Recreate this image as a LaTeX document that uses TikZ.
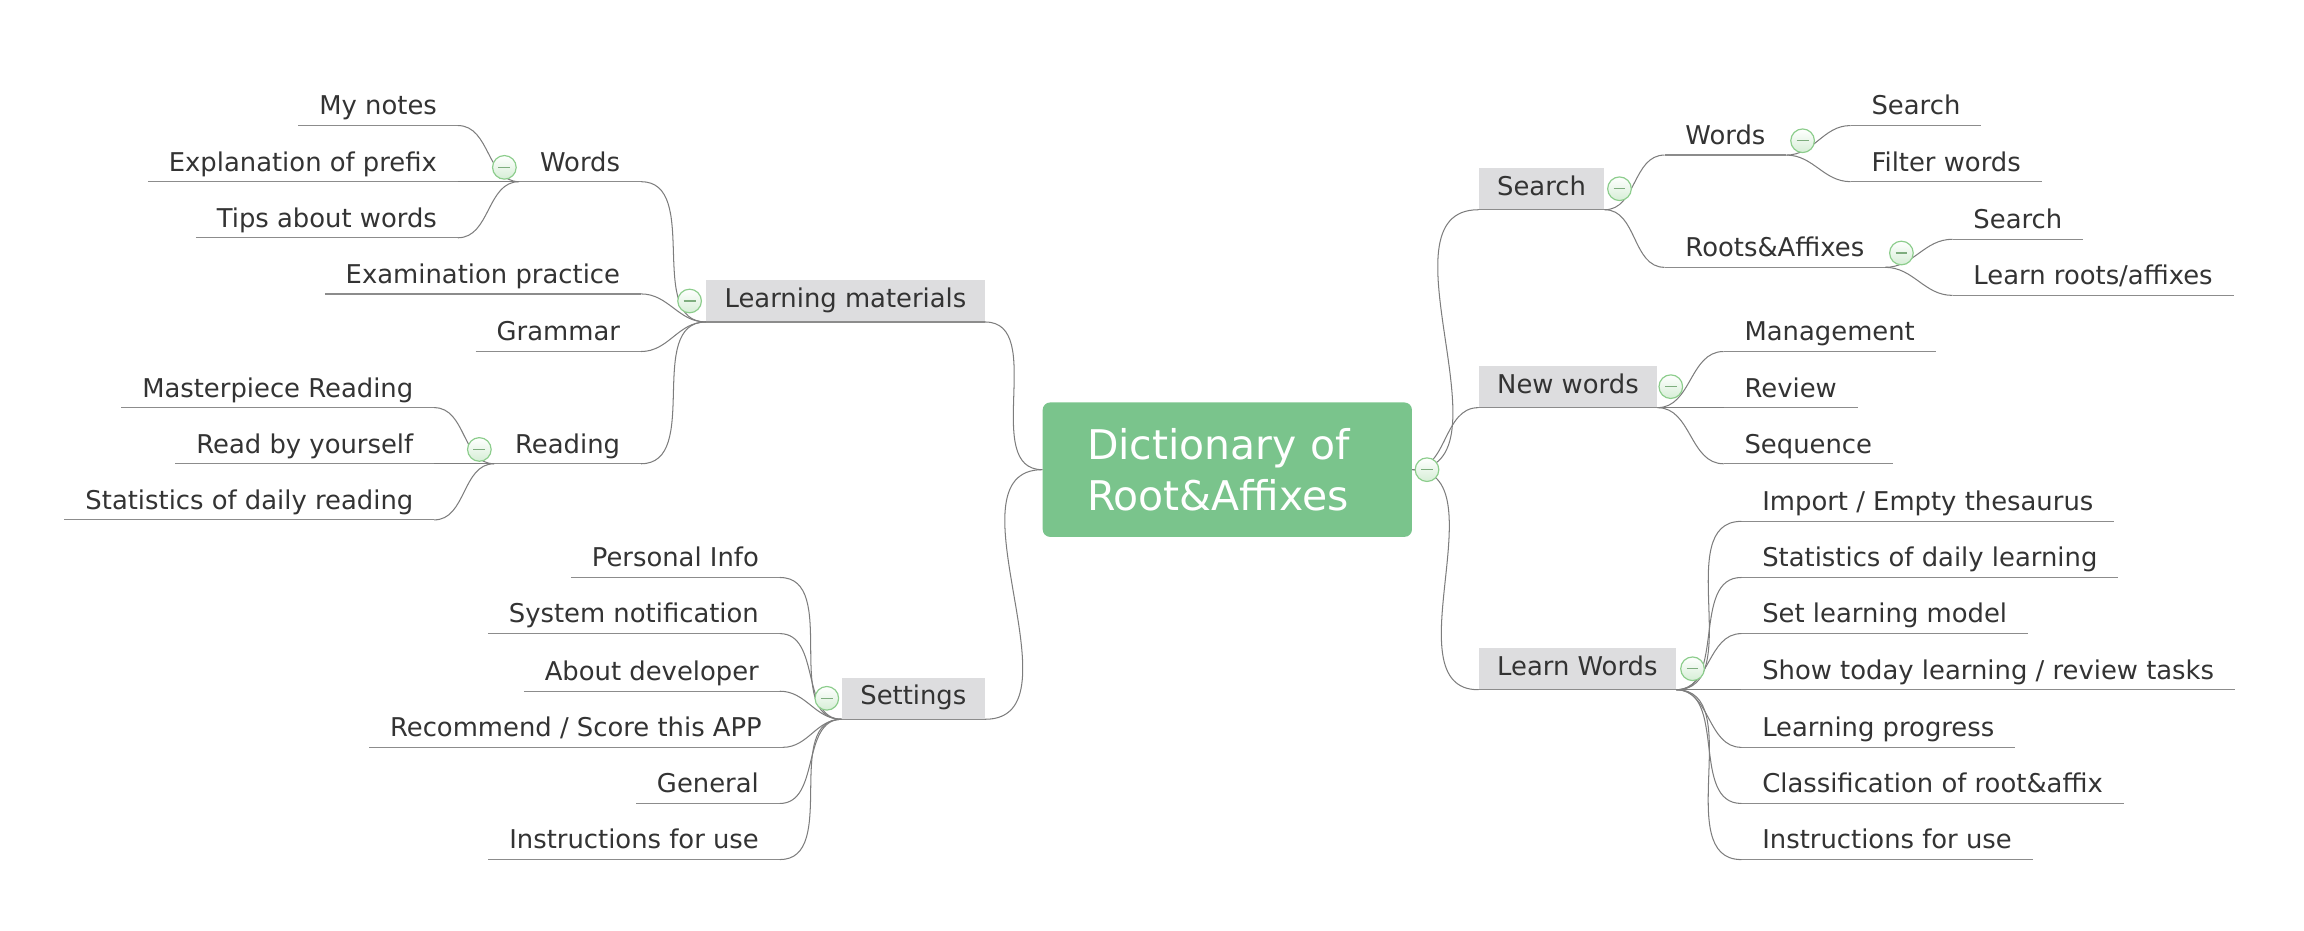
\documentclass[tikz,border=0pt]{standalone}
\usepackage{fontspec}
\setmainfont{DejaVu Sans}
\usepackage{tikz}

\definecolor{rootgreen}{RGB}{122,196,140}
\definecolor{boxgray}{RGB}{221,221,223}
\definecolor{linegray}{RGB}{125,125,125}
\definecolor{ulinegray}{RGB}{140,140,140}
\definecolor{textgray}{RGB}{51,51,51}
\definecolor{foldgreen}{RGB}{140,205,140}
\definecolor{foldfill}{RGB}{214,238,214}

\begin{document}
\begin{tikzpicture}[x=1pt,y=-1pt,
  font=\fontsize{17.5}{21}\selectfont, text=textgray,
  uline/.style={append after command={(\tikzlastnode.south west) edge[draw=ulinegray, line width=0.8pt] (\tikzlastnode.south east)}},
  leaf/.style={inner xsep=14, inner ysep=4.5, text height=0.75em, text depth=0.25em, uline},
  topic/.style={fill=boxgray, inner xsep=12.5, inner ysep=0, minimum height=28, text height=0.95em, text depth=0.05em, uline},
  root/.style={fill=rootgreen, rounded corners=5, text width=190, inner xsep=30, minimum height=91, text=white, align=left, font=\fontsize{27.7}{35}\selectfont},
  lcurve/.style={draw=linegray, line width=0.7pt, out=180, in=0},
  rcurve/.style={draw=linegray, line width=0.7pt, out=0, in=180},
  fold/.style={circle, draw=foldgreen, line width=0.8pt, minimum size=16, inner sep=0, top color=white, bottom color=foldfill,
    path picture={\draw[foldgreen!80!black!90, line width=0.8pt] ([xshift=-4]path picture bounding box.center) -- ([xshift=4]path picture bounding box.center);}}
]
\useasboundingbox (0,0) rectangle (1560,630);

% central topic
 \draw (831,318) node[root] (root) {Dictionary of\\Root\&Affixes};

% left side
 \draw (667,218) node[topic, anchor=south east] (lm) {Learning materials};
 \draw (667,487) node[topic, anchor=south east] (settings) {Settings};

  \draw (434,123) node[leaf, anchor=south east] (lwords) {Words};
  \draw (434,199) node[leaf, anchor=south east] (exam) {Examination practice};
  \draw (434,238) node[leaf, anchor=south east] (grammar) {Grammar};
  \draw (434,314) node[leaf, anchor=south east] (reading) {Reading};

	\draw (310,85) node[leaf, anchor=south east] (notes) {My notes};
	\draw (310,123) node[leaf, anchor=south east] (prefix) {Explanation of prefix};
	\draw (310,161) node[leaf, anchor=south east] (tips) {Tips about words};

	\draw (294,276) node[leaf, anchor=south east] (master) {Masterpiece Reading};
	\draw (294,314) node[leaf, anchor=south east] (yourself) {Read by yourself};
	\draw (294,352) node[leaf, anchor=south east] (dailyread) {Statistics of daily reading};

  \draw (528,391) node[leaf, anchor=south east] (personal) {Personal Info};
  \draw (528,429) node[leaf, anchor=south east] (notify) {System notification};
  \draw (528,468) node[leaf, anchor=south east] (developer) {About developer};
  \draw (530,506) node[leaf, anchor=south east] (recommend) {Recommend / Score this APP};
  \draw (528,544) node[leaf, anchor=south east] (general) {General};
  \draw (528,582) node[leaf, anchor=south east] (lhelp) {Instructions for use};

% right side
 \draw (1001,142) node[topic, anchor=south west] (search) {Search};
 \draw (1001,276) node[topic, anchor=south west] (newwords) {New words};
 \draw (1001,467) node[topic, anchor=south west] (learnwords) {Learn Words};

  \draw (1127,105) node[leaf, anchor=south west] (rwords) {Words};
  \draw (1127,181) node[leaf, anchor=south west] (roots) {Roots\&Affixes};

	\draw (1253,85) node[leaf, anchor=south west] (wsearch) {Search};
	\draw (1253,123) node[leaf, anchor=south west] (filter) {Filter words};
	\draw (1322,162) node[leaf, anchor=south west] (rsearch) {Search};
	\draw (1322,200) node[leaf, anchor=south west] (learnroots) {Learn roots/affixes};

  \draw (1167,238) node[leaf, anchor=south west] (manage) {Management};
  \draw (1167,276) node[leaf, anchor=south west] (review) {Review};
  \draw (1167,314) node[leaf, anchor=south west] (sequence) {Sequence};

  \draw (1179,353) node[leaf, anchor=south west] (import) {Import / Empty thesaurus};
  \draw (1179,391) node[leaf, anchor=south west] (dailylearn) {Statistics of daily learning};
  \draw (1179,429) node[leaf, anchor=south west] (model) {Set learning model};
  \draw (1179,467) node[leaf, anchor=south west] (today) {Show today learning / review tasks};
  \draw (1179,506) node[leaf, anchor=south west] (progress) {Learning progress};
  \draw (1179,544) node[leaf, anchor=south west] (classify) {Classification of root\&affix};
  \draw (1179,582) node[leaf, anchor=south west] (rhelp) {Instructions for use};

% connectors
 \path (root.west) edge[lcurve] (lm.south east);
 \path (root.west) edge[lcurve] (settings.south east);
 \path (root.east) edge[rcurve] (search.south west);
 \path (root.east) edge[rcurve] (newwords.south west);
 \path (root.east) edge[rcurve] (learnwords.south west);

 \path (lm.south west) edge[lcurve] (lwords.south east);
 \path (lm.south west) edge[lcurve] (exam.south east);
 \path (lm.south west) edge[lcurve] (grammar.south east);
 \path (lm.south west) edge[lcurve] (reading.south east);
 \path (lwords.south west) edge[lcurve] (notes.south east);
 \path (lwords.south west) edge[lcurve] (prefix.south east);
 \path (lwords.south west) edge[lcurve] (tips.south east);
 \path (reading.south west) edge[lcurve] (master.south east);
 \path (reading.south west) edge[lcurve] (yourself.south east);
 \path (reading.south west) edge[lcurve] (dailyread.south east);

 \path (settings.south west) edge[lcurve] (personal.south east);
 \path (settings.south west) edge[lcurve] (notify.south east);
 \path (settings.south west) edge[lcurve] (developer.south east);
 \path (settings.south west) edge[lcurve] (recommend.south east);
 \path (settings.south west) edge[lcurve] (general.south east);
 \path (settings.south west) edge[lcurve] (lhelp.south east);

 \path (search.south east) edge[rcurve] (rwords.south west);
 \path (search.south east) edge[rcurve] (roots.south west);
 \path (rwords.south east) edge[rcurve] (wsearch.south west);
 \path (rwords.south east) edge[rcurve] (filter.south west);
 \path (roots.south east) edge[rcurve] (rsearch.south west);
 \path (roots.south east) edge[rcurve] (learnroots.south west);

 \path (newwords.south east) edge[rcurve] (manage.south west);
 \path (newwords.south east) edge[rcurve] (review.south west);
 \path (newwords.south east) edge[rcurve] (sequence.south west);

 \path (learnwords.south east) edge[rcurve] (import.south west);
 \path (learnwords.south east) edge[rcurve] (dailylearn.south west);
 \path (learnwords.south east) edge[rcurve] (model.south west);
 \path (learnwords.south east) edge[rcurve] (today.south west);
 \path (learnwords.south east) edge[rcurve] (progress.south west);
 \path (learnwords.south east) edge[rcurve] (classify.south west);
 \path (learnwords.south east) edge[rcurve] (rhelp.south west);

% collapse markers
 \draw ([xshift=10]root.east) node[fold] (rootfold) {};
 \draw ([xshift=-11]lm.west) node[fold] (lmfold) {};
 \draw ([xshift=-10]lwords.west) node[fold] (lwordsfold) {};
 \draw ([xshift=-10]reading.west) node[fold] (readingfold) {};
 \draw ([xshift=-10]settings.west) node[fold] (settingsfold) {};
 \draw ([xshift=10]search.east) node[fold] (searchfold) {};
 \draw ([xshift=11]rwords.east) node[fold] (rwordsfold) {};
 \draw ([xshift=11]roots.east) node[fold] (rootsfold) {};
 \draw ([xshift=9]newwords.east) node[fold] (newwordsfold) {};
 \draw ([xshift=11]learnwords.east) node[fold] (learnwordsfold) {};
\end{tikzpicture}
\end{document}
